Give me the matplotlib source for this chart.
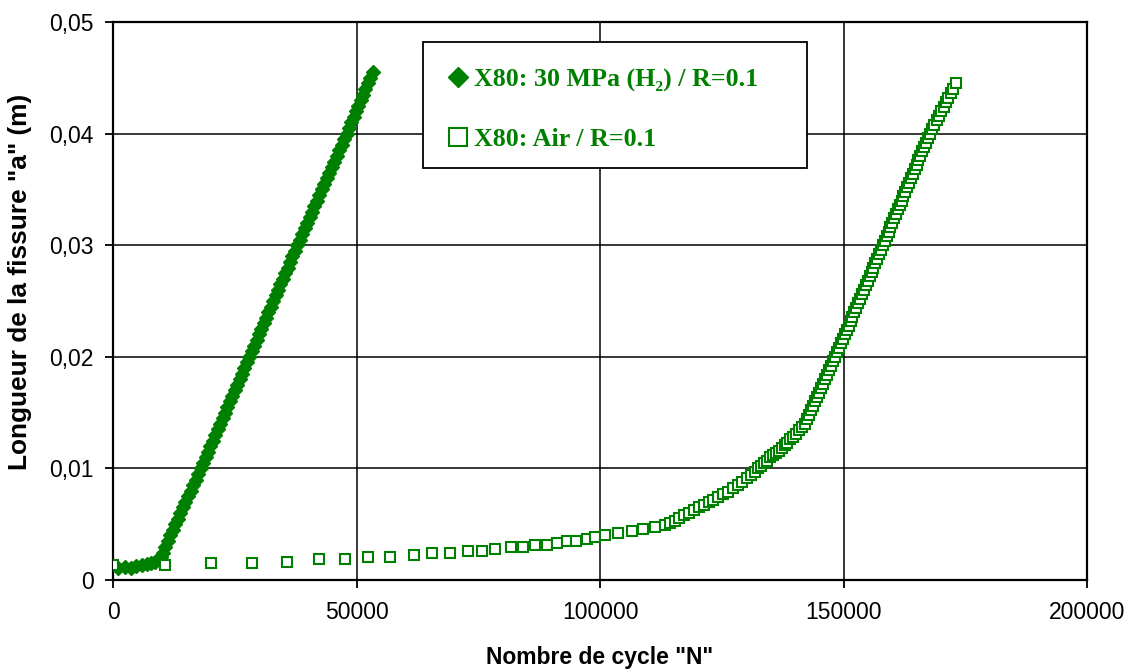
import matplotlib
matplotlib.use("Agg")
import matplotlib.pyplot as plt
from matplotlib.patches import Rectangle

# ---------------- data ----------------
h2_cycles = [1000, 2400, 3600, 4800, 5900, 7000, 7900, 8700, 9300, 9800, 10200,
             10700, 11220, 11740, 12260, 12790, 13310, 13830, 14350, 14870, 15400,
             15920, 16440, 16960, 17480, 18000, 18500, 19000, 19500, 20000, 20500,
             21000, 21500, 22000, 22500, 23000, 23500, 24000, 24500, 25000, 25500,
             26000, 26500, 27000, 27500, 28000, 28490, 28980, 29470, 29960, 30450,
             30940, 31430, 31920, 32410, 32900, 33390, 33880, 34370, 34860, 35350,
             35840, 36330, 36820, 37310, 37800, 38310, 38820, 39330, 39840, 40350,
             40860, 41370, 41880, 42390, 42900, 43410, 43920, 44430, 44940, 45450,
             45960, 46470, 46980, 47490, 48000, 48480, 48960, 49440, 49920, 50400,
             50880, 51360, 51840, 52320, 52800, 53300]
h2_length = [0.00110, 0.00118, 0.00112, 0.00125, 0.00130, 0.00140, 0.00150, 0.00165,
             0.00185, 0.00210, 0.00240,
             0.0030, 0.0035, 0.0040, 0.0045, 0.0050, 0.0055, 0.0060, 0.0065, 0.0070,
             0.0075, 0.0080, 0.0085, 0.0090, 0.0095, 0.0100, 0.0105, 0.0110, 0.0115,
             0.0120, 0.0125, 0.0130, 0.0135, 0.0140, 0.0145, 0.0150, 0.0155, 0.0160,
             0.0165, 0.0170, 0.0175, 0.0180, 0.0185, 0.0190, 0.0195, 0.0200, 0.0205,
             0.0210, 0.0215, 0.0220, 0.0225, 0.0230, 0.0235, 0.0240, 0.0245, 0.0250,
             0.0255, 0.0260, 0.0265, 0.0270, 0.0275, 0.0280, 0.0285, 0.0290, 0.0295,
             0.0300, 0.0305, 0.0310, 0.0315, 0.0320, 0.0325, 0.0330, 0.0335, 0.0340,
             0.0345, 0.0350, 0.0355, 0.0360, 0.0365, 0.0370, 0.0375, 0.0380, 0.0385,
             0.0390, 0.0395, 0.0400, 0.0405, 0.0410, 0.0415, 0.0420, 0.0425, 0.0430,
             0.0435, 0.0440, 0.0445, 0.0450, 0.0455]

air_cycles = [0, 10700, 20100, 28500, 35700, 42300, 47600, 52400, 56900, 61800,
              65500, 69200, 72900, 75800, 78400, 81700, 84200, 86600, 89100, 91200,
              93200, 95100, 97300, 99000, 101000, 103700, 106600, 108800, 111300, 113300,
              114300, 115300, 116300, 117300, 118300, 119300, 120300, 121300, 122300,
              123300, 124300, 125300, 126300, 127300, 128300, 129200, 130100, 131000,
              131800, 132500, 133100, 133700, 134300, 134900, 135500, 136100, 136700,
              137300, 137900, 138500, 139100, 139700, 140300, 140900, 141500, 142000,
              142420, 142840, 143260, 143680, 144100, 144520, 144940, 145360, 145780,
              146200, 146620, 147040, 147460, 147880, 148300, 148690, 149080, 149480,
              149870, 150260, 150650, 151040, 151440, 151830, 152220, 152610, 153000,
              153400, 153790, 154180, 154570, 154960, 155360, 155750, 156140, 156530,
              156920, 157320, 157710, 158100, 158480, 158870, 159250, 159640, 160020,
              160400, 160790, 161170, 161560, 161940, 162320, 162710, 163090, 163480,
              163860, 164240, 164630, 165010, 165400, 165780, 166160, 166550, 166930,
              167320, 167700, 168180, 168660, 169140, 169620, 170100, 170580, 171060,
              171540, 172020, 172500, 173100]
air_length = [0.00134, 0.00130, 0.00150, 0.00150, 0.00165, 0.00185, 0.00188, 0.00206,
              0.00206, 0.00224, 0.00240, 0.00242, 0.00258, 0.00260, 0.00276, 0.00294,
              0.00296, 0.00312, 0.00315, 0.00330, 0.00348, 0.00350, 0.00366, 0.00384,
              0.00400, 0.00420, 0.00440, 0.00460, 0.00478, 0.00490,
              0.0051, 0.0053, 0.0056, 0.0058, 0.0060, 0.0063, 0.0065, 0.0067, 0.0070,
              0.0072, 0.0074, 0.0077, 0.0079, 0.0082, 0.0085, 0.0088, 0.0091, 0.0094,
              0.0097, 0.0100, 0.0102, 0.0105, 0.0107, 0.0110, 0.0112, 0.0114, 0.0116,
              0.0118, 0.0121, 0.0123, 0.0126, 0.0128, 0.0131, 0.0134, 0.0137, 0.0140,
              0.0144, 0.0148, 0.0152, 0.0156, 0.0160, 0.0164, 0.0168, 0.0172, 0.0176,
              0.0180, 0.0184, 0.0188, 0.0192, 0.0196, 0.0200, 0.0204, 0.0208, 0.0212,
              0.0216, 0.0220, 0.0224, 0.0228, 0.0232, 0.0236, 0.0240, 0.0244, 0.0248,
              0.0252, 0.0256, 0.0260, 0.0264, 0.0268, 0.0272, 0.0276, 0.0280, 0.0284,
              0.0288, 0.0292, 0.0296, 0.0300, 0.0304, 0.0308, 0.0312, 0.0316, 0.0320,
              0.0324, 0.0328, 0.0332, 0.0336, 0.0340, 0.0344, 0.0348, 0.0352, 0.0356,
              0.0360, 0.0364, 0.0368, 0.0372, 0.0376, 0.0380, 0.0384, 0.0388, 0.0392,
              0.0396, 0.0400, 0.0404, 0.0408, 0.0412, 0.0416, 0.0420, 0.0424, 0.0428,
              0.0432, 0.0436, 0.0440, 0.0445]

series_labels = ["X80: 30 MPa (H\u2082) / R=0.1", "X80: Air / R=0.1"]
x_ticks = [0, 50000, 100000, 150000, 200000]
x_tick_labels = ["0", "50000", "100000", "150000", "200000"]
y_ticks = [0, 0.01, 0.02, 0.03, 0.04, 0.05]
y_tick_labels = ["0", "0,01", "0,02", "0,03", "0,04", "0,05"]
x_label = 'Nombre de cycle "N"'
y_label = 'Longueur de la fissure "a" (m)'

# ---------------- figure ----------------
GREEN = "#008000"
fig = plt.figure(figsize=(11.36, 6.72), dpi=100)
ax = fig.add_axes([113 / 1136, 1 - 580 / 672, (1087 - 113) / 1136, (580 - 22) / 672])

ax.plot(h2_cycles, h2_length, linestyle="none", marker="D", markersize=6.9,
        color=GREEN, markeredgecolor=GREEN, label=series_labels[0], zorder=3)
ax.plot(air_cycles, air_length, linestyle="none", marker="s", markersize=7.0,
        markerfacecolor="white", markeredgecolor=GREEN, markeredgewidth=1.5,
        label=series_labels[1], zorder=3)

ax.set_xlim(0, 200000)
ax.set_ylim(0, 0.05)
ax.set_xticks(x_ticks)
ax.set_xticklabels(x_tick_labels, family="Liberation Sans", fontsize=16.5)
ax.set_yticks(y_ticks)
ax.set_yticklabels(y_tick_labels, family="Liberation Sans", fontsize=16.5)
ax.tick_params(axis="both", direction="out", length=6, width=1.3, color="black")
ax.tick_params(axis="x", pad=9)
ax.tick_params(axis="y", pad=8)

ax.grid(True, color="black", linewidth=1.1)
ax.set_axisbelow(True)
for s in ax.spines.values():
    s.set_linewidth(1.6)
    s.set_color("black")

ax.set_xlabel(x_label, family="Liberation Sans", fontweight="bold", fontsize=16.5,
              labelpad=16)
ax.set_ylabel(y_label, family="Liberation Sans", fontweight="bold", fontsize=18.9)
ax.yaxis.set_label_coords(-0.083, 0.534)

# legend frame drawn explicitly (axes coordinates)
box_x0, box_x1 = 0.3183, 0.7125
box_y0, box_y1 = 0.7384, 0.9642
ax.add_patch(Rectangle((box_x0, box_y0), box_x1 - box_x0, box_y1 - box_y0,
                       transform=ax.transAxes, facecolor="white", edgecolor="black",
                       linewidth=1.3, zorder=4))

leg = ax.legend(loc="upper left", bbox_to_anchor=(box_x0, 0.5, box_x1 - box_x0, box_y1 - 0.5),
                mode="expand", borderaxespad=0, frameon=False,
                handlelength=0.7, handletextpad=0.25, borderpad=1.0,
                labelspacing=1.41,
                prop={"family": ["Liberation Serif", "DejaVu Serif"],
                      "weight": "bold", "size": 18.7})
leg.set_zorder(5)
handles = leg.legend_handles
handles[0].set_markersize(10.2)
handles[1].set_markersize(13.2)
for t in leg.get_texts():
    t.set_color(GREEN)

fig.savefig("out.png", dpi=100, facecolor="white")
